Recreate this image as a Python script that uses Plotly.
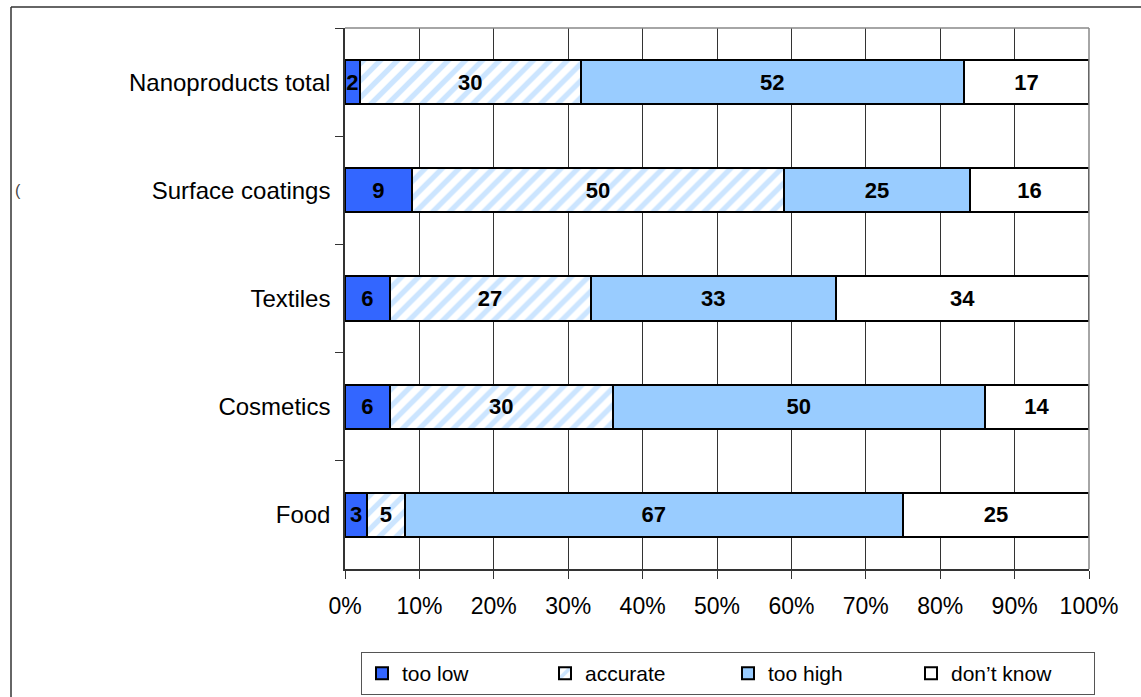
import plotly.graph_objects as go

categories = ["Nanoproducts total", "Surface coatings", "Textiles", "Cosmetics", "Food"]
too_low = [2, 9, 6, 6, 3]
accurate = [30, 50, 27, 30, 5]
too_high = [52, 25, 33, 50, 67]
dont_know = [17, 16, 34, 14, 25]
x_ticks = [0, 10, 20, 30, 40, 50, 60, 70, 80, 90, 100]
x_tick_labels = ["0%", "10%", "20%", "30%", "40%", "50%", "60%", "70%", "80%", "90%", "100%"]

FONT = "Liberation Sans, Arial, sans-serif"
W, H = 1141, 697
L, R, T, B = 345, 52, 28, 128
pw, ph = W - L - R, H - T - B

def px_x(x):
    return (x - L) / pw

def px_y(y):
    return (H - B - y) / ph

series = [
    ("too low", too_low, dict(color="#3366FF", line=dict(color="black", width=2))),
    ("accurate", accurate, dict(color="white", line=dict(color="black", width=2),
                                 pattern=dict(shape="/", fgcolor="#99CCFF", bgcolor="white",
                                              size=12, solidity=0.45))),
    ("too high", too_high, dict(color="#99CCFF", line=dict(color="black", width=2))),
    ("don\u2019t know", dont_know, dict(color="white", line=dict(color="black", width=2))),
]

fig = go.Figure()
for name, vals, marker in series:
    fig.add_trace(go.Bar(
        name=name, y=categories, x=vals, orientation="h", marker=marker,
        text=vals, texttemplate="%{text}", textposition="inside",
        insidetextanchor="middle", constraintext="none",
        textfont=dict(family=FONT, size=22, color="black", weight="bold"),
        hoverinfo="skip",
    ))

fig.update_layout(
    width=W, height=H,
    margin=dict(l=L, r=R, t=T, b=B, autoexpand=False),
    barmode="stack", barnorm="percent", bargap=0.59,
    paper_bgcolor="white", plot_bgcolor="white",
    font=dict(family=FONT, size=22, color="black"),
    uniformtext=dict(mode="show", minsize=22),
    xaxis=dict(range=[0, 100], tickvals=x_ticks, ticktext=x_tick_labels,
               showgrid=True, gridcolor="#333333", gridwidth=1,
               ticks="outside", ticklen=8, tickcolor="#333333",
               showline=True, linecolor="#333333", linewidth=1.5,
               tickfont=dict(size=23), ticklabelstandoff=8,
               zeroline=False, fixedrange=True),
    yaxis=dict(autorange="reversed", tickson="boundaries", ticks="outside",
               ticklen=8, tickcolor="#333333", showline=True, linecolor="#333333",
               linewidth=1.5, showgrid=False, tickfont=dict(size=24),
               ticklabelstandoff=8, fixedrange=True),
    legend=dict(orientation="h", x=px_x(361), xanchor="left", y=px_y(652), yanchor="top",
                bordercolor="#555555", borderwidth=1, font=dict(size=21),
                entrywidth=138, entrywidthmode="pixels", traceorder="normal",
                itemclick=False),
    showlegend=True,
    annotations=[
        dict(text="(", xref="paper", yref="paper", x=px_x(18), y=px_y(190),
             showarrow=False, font=dict(size=16, color="#444444"), xanchor="center",
             yanchor="middle"),
    ],
    shapes=[
        dict(type="line", xref="paper", yref="paper", x0=0, x1=1, y0=1, y1=1,
             line=dict(color="#888888", width=1.5)),
        dict(type="line", xref="paper", yref="paper", x0=1, x1=1, y0=0, y1=1,
             line=dict(color="#888888", width=1.5)),
        dict(type="line", xref="paper", yref="paper", x0=px_x(11), x1=px_x(1145),
             y0=px_y(7), y1=px_y(7), line=dict(color="#333333", width=1.5)),
        dict(type="line", xref="paper", yref="paper", x0=px_x(11), x1=px_x(11),
             y0=px_y(7), y1=px_y(700), line=dict(color="#333333", width=1.5)),
    ],
)

fig.write_html("out.html")
